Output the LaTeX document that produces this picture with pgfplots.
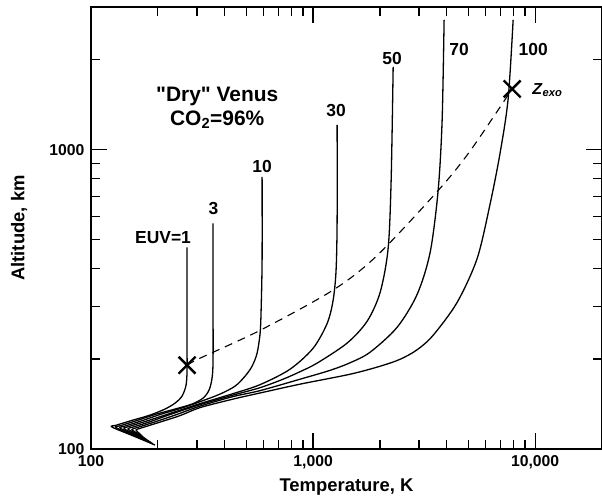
\documentclass[border=0pt]{standalone}
\usepackage{pgfplots}
\pgfplotsset{compat=1.18}
\usepackage{fontspec}
\setmainfont{Liberation Sans}
\newfontfamily\rawfont{Liberation Sans}
\begin{document}
\begin{tikzpicture}
\begin{axis}[
  name=ax,
  xmode=log, ymode=log,
  scale only axis, width=511bp, height=442bp,
  xmin=100, xmax=20000, ymin=100, ymax=3000,
  xtick={100,1000,10000}, xticklabels={100,{1,000},{10,000}},
  ytick={100,1000}, yticklabels={100,1000},
  minor xtick={200,300,400,500,600,700,800,900,2000,3000,4000,5000,6000,7000,8000,9000},
  minor ytick={200,300,400,500,600,700,800,900,2000},
  tick align=inside,
  major tick length=16bp, minor tick length=9bp,
  every tick/.style={line width=1.2bp, black},
  axis line style={line width=1.6bp},
  ticklabel style={font=\fontsize{15.8}{18}\selectfont\bfseries},
  xticklabel style={yshift=-3bp},
  yticklabel style={xshift=-3bp},
  xlabel={Temperature, K}, ylabel={Altitude, km},
  label style={font=\fontsize{18.5}{21}\selectfont\bfseries},
  xlabel style={at={(axis description cs:0.5,-0.086)}, anchor=center},
  ylabel style={at={(axis description cs:-0.1409,0.5)}, anchor=center},
  cur/.style={black, no markers, line width=1.3bp, smooth, tension=0.5},
]
% EUV=1
\addplot[cur] coordinates {(194.2,103.1) (155.4,110.5) (124.3,118.4) (129.6,120.0) (142.3,122.6) (154.6,124.9) (184.4,129.8) (215.4,136.0) (239.0,142.3) (257.1,150.3) (267.9,163.4) (270.7,183.2) (270.7,230.9) (270.7,471.5)};
% EUV=3
\addplot[cur] coordinates {(190.2,104.2) (157.1,110.8) (129.6,117.9) (136.5,119.8) (161.1,124.5) (194.2,130.4) (239.0,136.0) (285.1,141.3) (319.5,147.9) (340.1,157.4) (350.8,172.5) (354.5,198.1) (354.5,314.2) (354.5,567.5)};
% EUV=10
\addplot[cur] coordinates {(186.3,105.2) (158.7,111.2) (135.1,117.5) (142.3,119.3) (168.0,124.0) (204.6,130.4) (251.8,136.5) (309.7,143.9) (381.2,152.6) (445.3,162.2) (494.1,175.2) (531.1,189.1) (559.5,209.0) (577.3,243.5) (583.4,290.6) (589.4,426.6) (589.4,812.0)};
% EUV=30
\addplot[cur] coordinates {(182.5,106.3) (160.3,111.5) (140.8,117.0) (148.3,118.9) (175.1,123.5) (215.4,129.8) (265.2,136.5) (309.7,141.8) (436.1,153.1) (577.3,164.1) (787.7,184.8) (1000,217.1) (1157,262.8) (1231,314.2) (1269,395.2) (1283,580.0) (1283,1212)};
% EUV=50
\addplot[cur] coordinates {(178.8,107.3) (162.0,111.9) (146.8,116.6) (154.6,118.4) (182.5,123.0) (227.0,130.4) (309.7,140.7) (436.1,151.4) (577.3,160.3) (732.4,171.1) (873.7,181.3) (1042,193.6) (1423,225.9) (1751,267.2) (2004,333.7) (2177,467.7) (2246,787.1) (2294,1893)};
% EUV=70
\addplot[cur] coordinates {(175.1,108.4) (163.7,112.2) (153.0,116.1) (161.1,117.9) (190.2,122.6) (239.0,129.8) (309.7,139.1) (436.1,149.7) (577.3,156.7) (873.7,171.1) (1193,183.2) (1468,194.2) (1806,210.6) (2390,255.1) (2941,328.6) (3365,453.6) (3657,730.8) (3811,1250) (3891,2718)};
% EUV=100
\addplot[cur] coordinates {(171.5,109.5) (165.4,112.6) (159.5,115.7) (168.0,117.5) (198.3,122.1) (251.8,129.3) (309.7,137.5) (436.1,146.8) (577.3,153.9) (873.7,164.7) (1468,177.8) (2004,189.1) (2466,199.5) (2941,214.6) (3472,239.9) (4453,309.0) (5480,433.3) (6272,660.7) (6955,977.2) (7556,1479) (7960,2718)};
% exobase
\addplot[black, no markers, smooth, tension=0.5, dash pattern=on 8bp off 6bp, line width=1.1bp] coordinates {(270.7,190.6) (309.7,201.1) (577.3,249.2) (1231,339.8) (1943,443.3) (3657,730.8) (5095,990.8) (7878,1597)};
\addplot[black, only marks, mark=x, mark size=12bp, line width=2.4bp] coordinates {(270.7,190.6) (7878,1597)};
\begin{scope}[font=\fontsize{17.5}{20}\selectfont\bfseries]
\node at (axis cs:211,508.9) {EUV=1};
\node at (axis cs:356,635.9) {3};
\node at (axis cs:589.4,877.6) {10};
\node at (axis cs:1269,1349) {30};
\node at (axis cs:2270,2011) {50};
\node at (axis cs:4548,2171) {70};
\node at (axis cs:9795,2171) {100};
\end{scope}
\node[anchor=west, inner sep=0pt, font=\fontsize{16}{18}\selectfont] at (axis cs:9694,1585) {\textbf{\textit{Z}}\textsubscript{\textbf{\textit{exo}}}};
\node[font=\fontsize{21}{23.5}\selectfont\bfseries, align=center] at (axis cs:370,1380) {{\rawfont\bfseries "Dry" Venus}\\CO\textsubscript{2}=96\%};
\end{axis}
\pgfresetboundingbox
\path[use as bounding box] ([xshift=-91bp,yshift=-49bp]ax.south west) rectangle ([yshift=7bp]ax.north east);
\end{tikzpicture}
\end{document}
